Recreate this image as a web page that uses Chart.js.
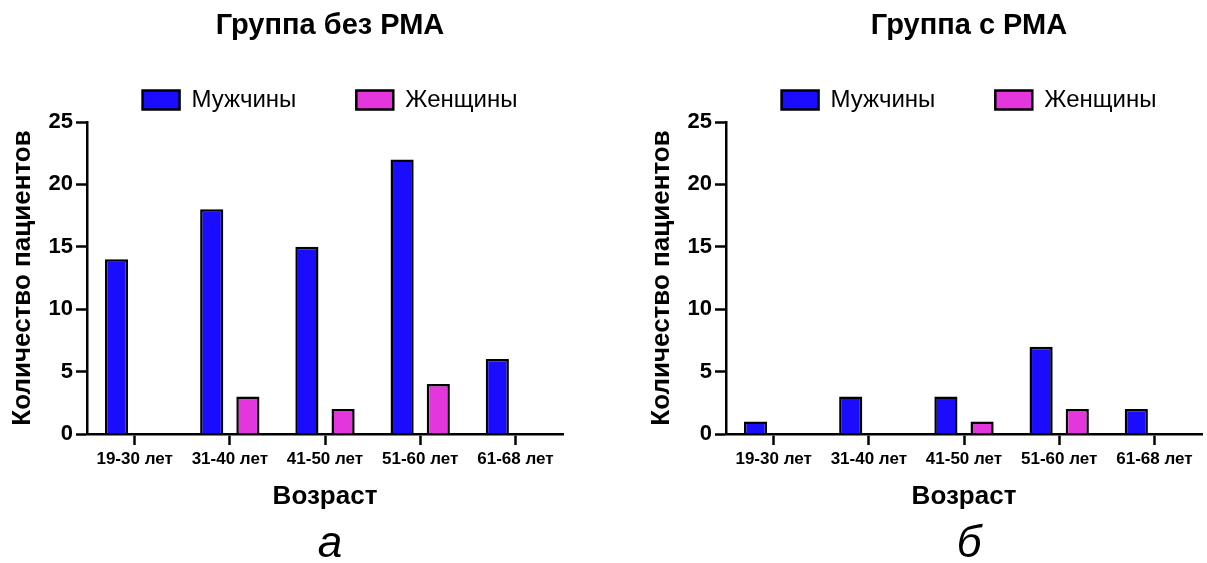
<!DOCTYPE html>
<html>
<head>
<meta charset="utf-8">
<script src="https://cdn.jsdelivr.net/npm/chart.js@4.4.1/dist/chart.umd.min.js"></script>
<style>
  html, body { margin: 0; padding: 0; background: #fff; overflow: hidden; width: 1207px; height: 563px; }
  canvas { position: absolute; top: 0; }
</style>
</head>
<body>
<canvas id="panelA" width="660" height="563" style="left:0px"></canvas>
<canvas id="panelB" width="660" height="563" style="left:639px"></canvas>
<script>
// Age groups and patient counts
const ageGroups = ['19-30 лет', '31-40 лет', '41-50 лет', '51-60 лет', '61-68 лет'];
const seriesNames = ['Мужчины', 'Женщины'];
const menNoRma = [14, 18, 15, 22, 6];
const womenNoRma = [0, 3, 2, 4, 0];
const menRma = [1, 3, 3, 7, 2];
const womenRma = [0, 0, 1, 2, 0];
const yTicks = [0, 5, 10, 15, 20, 25];

const FONT = "'Liberation Sans', Arial, Helvetica, sans-serif";
const BLUE = '#1a0cff';
const MAGENTA = '#e336dc';

function makePanel(canvasId, title, letter, men, women) {
  return new Chart(document.getElementById(canvasId), {
    type: 'bar',
    data: {
      labels: ageGroups,
      datasets: [
        { label: seriesNames[0], data: men, backgroundColor: BLUE, borderColor: '#000', borderWidth: 2.5 },
        { label: seriesNames[1], data: women, backgroundColor: MAGENTA, borderColor: '#000', borderWidth: 2.5 }
      ]
    },
    options: {
      responsive: false,
      animation: false,
      devicePixelRatio: 1,
      categoryPercentage: 0.76,
      barPercentage: 0.64,
      layout: { padding: 0 },
      plugins: {
        tooltip: { enabled: false },
        title: {
          display: true,
          text: title,
          color: '#000',
          font: { family: FONT, size: 29, weight: 'bold', lineHeight: 0.1 },
          padding: { top: 24.5, bottom: 0.6 }
        },
        subtitle: {
          display: true,
          position: 'bottom',
          text: letter,
          color: '#000',
          font: { family: FONT, size: 44, style: 'italic', lineHeight: 0.8 },
          padding: { top: 0, bottom: 0.4 }
        },
        legend: {
          display: true,
          position: 'top',
          labels: {
            color: '#000',
            font: { family: FONT, size: 24 },
            boxWidth: 37,
            boxHeight: 19,
            padding: 60
          }
        }
      },
      scales: {
        x: {
          afterFit: s => { s.height = 93.4; },
          grid: { display: true, offset: false, drawOnChartArea: false, drawTicks: true, tickLength: 11, tickColor: '#000', tickWidth: 2.5 },
          border: { display: true, color: '#000', width: 2.5 },
          ticks: { color: '#000', font: { family: FONT, size: 17, weight: 'bold' }, padding: 4, maxRotation: 0 },
          title: {
            display: true,
            text: 'Возраст',
            color: '#000',
            font: { family: FONT, size: 26, weight: 'bold', lineHeight: 1.2 },
            padding: { top: 0, bottom: 14.8 }
          }
        },
        y: {
          min: 0,
          max: 25,
          afterFit: s => { s.width = 87; },
          afterBuildTicks: s => { s.ticks = yTicks.map(v => ({ value: v })); },
          grid: { display: true, drawOnChartArea: false, drawTicks: true, tickLength: 11, tickColor: '#000', tickWidth: 2.5 },
          border: { display: true, color: '#000', width: 2.5 },
          ticks: { color: '#000', font: { family: FONT, size: 22, weight: 'bold' }, padding: 3 },
          title: {
            display: true,
            text: 'Количество пациентов',
            color: '#000',
            font: { family: FONT, size: 26, weight: 'bold', lineHeight: 1.2 },
            padding: { top: 7, bottom: 0 }
          }
        },
        // blank margin on the right so the heading and legend sit over the plot
        yMargin: {
          type: 'linear',
          axis: 'y',
          position: 'right',
          display: true,
          afterFit: s => { s.width = 97; },
          grid: { display: false },
          border: { display: false },
          ticks: { display: false },
          title: { display: false }
        }
      }
    }
  });
}

makePanel('panelA', 'Группа без РМА', 'а', menNoRma, womenNoRma);
makePanel('panelB', 'Группа с РМА', 'б', menRma, womenRma);
</script>
</body>
</html>
